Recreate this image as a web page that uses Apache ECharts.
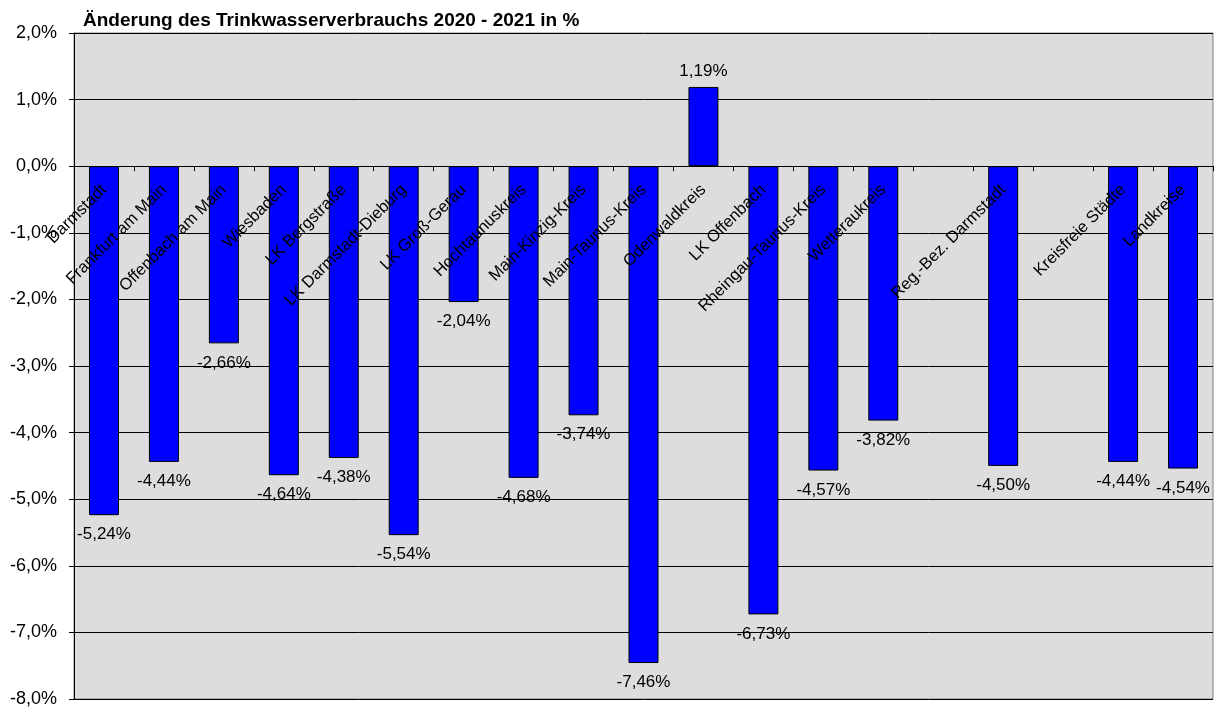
<!DOCTYPE html>
<html>
<head>
<meta charset="utf-8">
<script src="https://cdn.jsdelivr.net/npm/echarts@6/dist/echarts.min.js"></script>
<style>
html,body{margin:0;padding:0;background:#fff;}
#chart{width:1220px;height:713px;}
</style>
</head>
<body>
<div id="chart"></div>
<script>
const titleText = 'Änderung des Trinkwasserverbrauchs 2020 - 2021 in %';
const categories = ['Darmstadt','Frankfurt am Main','Offenbach am Main','Wiesbaden','LK Bergstraße','LK Darmstadt-Dieburg','LK Groß-Gerau','Hochtaunuskreis','Main-Kinzig-Kreis','Main-Taunus-Kreis','Odenwaldkreis','LK Offenbach','Rheingau-Taunus-Kreis','Wetteraukreis','','Reg.-Bez. Darmstadt','','Kreisfreie Städte','Landkreise'];
const values = [-5.24,-4.44,-2.66,-4.64,-4.38,-5.54,-2.04,-4.68,-3.74,-7.46,1.19,-6.73,-4.57,-3.82,null,-4.50,null,-4.44,-4.54];
const yMin = -8, yMax = 2, yStep = 1;

const fontFam = '"Liberation Sans", Arial, sans-serif';
const fmt = (v, d) => v.toFixed(d).replace('.', ',') + '%';

const W = 1220, H = 713;
const gridTop = 33, gridBottom = 14;
const gridH = H - gridTop - gridBottom;
// move the category axis up to the zero line
const zeroOffset = -(gridH * (0 - yMin) / (yMax - yMin));

const seriesData = values.map(v => v === null ? '-' : {
  value: v,
  label: { position: v >= 0 ? 'top' : 'bottom', distance: v >= 0 ? 7 : 11 }
});

const chart = echarts.init(document.getElementById('chart'), null, {renderer: 'canvas'});
chart.setOption({
  animation: false,
  backgroundColor: '#ffffff',
  title: {
    text: titleText,
    left: 78, top: 6,
    textStyle: { fontFamily: fontFam, fontSize: 19, fontWeight: 'bold', color: '#000' }
  },
  grid: {
    left: 74, right: 7, top: gridTop, bottom: gridBottom,
    containLabel: false, outerBoundsMode: 'none',
    show: true, backgroundColor: '#DDDDDD', borderColor: '#808080', borderWidth: 1
  },
  xAxis: {
    type: 'category',
    data: categories,
    position: 'bottom',
    offset: zeroOffset,
    z: 5,
    axisLine: { onZero: false, lineStyle: { color: '#000', width: 1 } },
    axisTick: { show: true, interval: 0, length: 5, lineStyle: { color: '#000' } },
    axisLabel: {
      interval: 0, rotate: 45, margin: 21,
      fontFamily: fontFam, fontSize: 16.5, color: '#000'
    },
    splitLine: { show: false }
  },
  yAxis: {
    type: 'value',
    min: yMin, max: yMax, interval: yStep,
    axisLine: { show: true, lineStyle: { color: '#000', width: 1 } },
    axisTick: { show: true, length: 5, lineStyle: { color: '#000' } },
    axisLabel: {
      margin: 17, fontFamily: fontFam, fontSize: 18, color: '#000',
      formatter: v => fmt(v, 1)
    },
    splitLine: { show: true, lineStyle: { color: '#000', width: 1 } }
  },
  series: [{
    type: 'bar',
    data: seriesData,
    barWidth: '50%',
    itemStyle: { color: '#0000FF', borderColor: '#000', borderWidth: 1 },
    label: {
      show: true,
      fontFamily: fontFam, fontSize: 17, color: '#000',
      formatter: p => fmt(p.value, 2)
    }
  }]
});
</script>
</body>
</html>
